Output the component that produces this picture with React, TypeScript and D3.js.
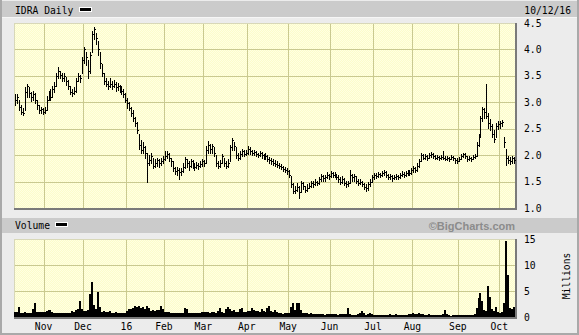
import React from "react";
import * as d3 from "d3";

// ---- data ----
const closes = [
  3.05, 3.10, 2.92, 2.82, 2.80, 3.20, 3.30, 3.18, 3.10, 3.15,
  3.05, 2.95, 2.85, 2.88, 2.82, 2.85, 3.05, 3.15, 3.10, 3.25,
  3.30, 3.50, 3.60, 3.52, 3.45, 3.50, 3.40, 3.30, 3.20, 3.18,
  3.22, 3.40, 3.50, 3.45, 3.80, 4.00, 3.85, 3.60, 3.90, 4.30,
  4.38, 4.22, 4.00, 3.75, 3.55, 3.40, 3.35, 3.30, 3.35, 3.30,
  3.35, 3.28, 3.30, 3.25, 3.22, 3.15, 3.05, 2.98, 2.90, 2.80,
  2.70, 2.60, 2.48, 2.20, 2.10, 2.15, 2.05, 1.85, 1.90, 1.98,
  1.80, 1.85, 1.90, 1.85, 1.88, 1.92, 1.98, 2.02, 1.95, 1.88,
  1.75, 1.70, 1.72, 1.68, 1.70, 1.78, 1.92, 1.85, 1.80, 1.88,
  1.82, 1.78, 1.82, 1.80, 1.84, 1.88, 1.85, 2.10, 2.20, 2.12,
  2.18, 2.05, 1.85, 1.80, 1.85, 1.98, 1.85, 1.80, 1.85, 2.15,
  2.28, 2.18, 2.00, 1.95, 2.02, 2.08, 2.02, 2.05, 2.12, 2.08,
  2.05, 2.06, 2.02, 2.00, 2.04, 2.00, 1.96, 1.98, 1.92, 1.90,
  1.88, 1.86, 1.84, 1.82, 1.80, 1.78, 1.74, 1.72, 1.70, 1.62,
  1.45, 1.32, 1.35, 1.40, 1.30, 1.48, 1.42, 1.35, 1.38, 1.42,
  1.48, 1.45, 1.50, 1.48, 1.55, 1.60, 1.56, 1.58, 1.62, 1.60,
  1.66, 1.62, 1.64, 1.58, 1.55, 1.50, 1.55, 1.48, 1.45, 1.48,
  1.62, 1.58, 1.60, 1.52, 1.48, 1.50, 1.45, 1.40, 1.38, 1.45,
  1.50, 1.58, 1.62, 1.60, 1.64, 1.62, 1.66, 1.68, 1.62, 1.58,
  1.60, 1.56, 1.58, 1.60, 1.58, 1.62, 1.65, 1.63, 1.66, 1.68,
  1.66, 1.72, 1.75, 1.72, 1.80, 1.88, 2.00, 1.95, 1.98, 1.94,
  2.00, 2.02, 1.98, 1.95, 1.96, 1.94, 1.96, 1.95, 1.93, 1.95,
  1.92, 1.96, 1.94, 1.90, 1.88, 1.92, 1.98, 2.02, 1.98, 1.92,
  1.95, 1.93, 1.97, 1.98, 2.20, 2.35, 2.70, 2.88, 2.82, 2.75,
  2.60, 2.55, 2.40, 2.30, 2.55, 2.58, 2.60, 2.62, 2.25, 1.95,
  1.90, 1.88, 1.95, 1.90,
];
const highs = [
  3.15, 3.15, 3.05, 2.95, 2.90, 3.28, 3.34, 3.28, 3.20, 3.22,
  3.18, 3.05, 2.95, 2.92, 2.90, 2.92, 3.12, 3.22, 3.25, 3.30,
  3.38, 3.55, 3.66, 3.60, 3.55, 3.55, 3.48, 3.42, 3.30, 3.25,
  3.28, 3.45, 3.55, 3.52, 3.85, 4.05, 3.95, 3.80, 3.95, 4.35,
  4.42, 4.32, 4.15, 3.95, 3.72, 3.55, 3.45, 3.40, 3.45, 3.40,
  3.42, 3.38, 3.36, 3.32, 3.30, 3.25, 3.18, 3.08, 3.00, 2.92,
  2.85, 2.72, 2.62, 2.40, 2.28, 2.25, 2.18, 2.05, 2.00, 2.05,
  1.95, 1.92, 1.95, 1.92, 1.95, 1.98, 2.08, 2.08, 2.05, 1.95,
  1.88, 1.78, 1.78, 1.75, 1.76, 1.85, 1.96, 1.93, 1.88, 1.92,
  1.90, 1.85, 1.87, 1.85, 1.88, 1.92, 1.90, 2.18, 2.26, 2.22,
  2.22, 2.15, 2.00, 1.88, 1.90, 2.02, 1.95, 1.88, 1.92, 2.20,
  2.32, 2.25, 2.15, 2.05, 2.08, 2.12, 2.10, 2.10, 2.18, 2.15,
  2.10, 2.10, 2.08, 2.05, 2.08, 2.06, 2.02, 2.05, 2.00, 1.96,
  1.94, 1.92, 1.90, 1.88, 1.86, 1.84, 1.80, 1.78, 1.76, 1.72,
  1.60, 1.48, 1.42, 1.48, 1.42, 1.52, 1.50, 1.42, 1.45, 1.48,
  1.52, 1.52, 1.54, 1.52, 1.58, 1.65, 1.62, 1.62, 1.68, 1.65,
  1.70, 1.68, 1.68, 1.65, 1.62, 1.58, 1.60, 1.56, 1.52, 1.52,
  1.72, 1.65, 1.64, 1.60, 1.55, 1.55, 1.52, 1.48, 1.45, 1.50,
  1.55, 1.62, 1.66, 1.66, 1.68, 1.67, 1.70, 1.72, 1.70, 1.64,
  1.64, 1.62, 1.62, 1.64, 1.62, 1.66, 1.70, 1.68, 1.70, 1.72,
  1.72, 1.76, 1.80, 1.78, 1.85, 1.92, 2.04, 2.02, 2.02, 2.00,
  2.04, 2.06, 2.04, 2.00, 2.00, 1.99, 2.00, 2.08, 1.98, 1.98,
  1.97, 2.00, 1.98, 1.95, 1.94, 1.96, 2.02, 2.05, 2.04, 1.98,
  1.98, 1.97, 2.00, 2.02, 2.25, 2.40, 2.75, 2.92, 2.90, 3.35,
  2.80, 2.68, 2.58, 2.48, 2.60, 2.64, 2.65, 2.66, 2.35, 2.12,
  1.98, 1.96, 1.98, 1.96,
];
const lows = [
  2.95, 2.98, 2.85, 2.78, 2.76, 2.85, 3.10, 3.10, 3.02, 3.05,
  2.98, 2.88, 2.80, 2.80, 2.78, 2.80, 2.85, 3.05, 3.05, 3.10,
  3.20, 3.30, 3.45, 3.45, 3.40, 3.40, 3.32, 3.25, 3.15, 3.12,
  3.15, 3.20, 3.40, 3.38, 3.55, 3.75, 3.70, 3.45, 3.55, 3.95,
  4.20, 4.10, 3.90, 3.65, 3.50, 3.35, 3.30, 3.25, 3.28, 3.25,
  3.28, 3.22, 3.24, 3.20, 3.15, 3.10, 3.00, 2.90, 2.85, 2.75,
  2.65, 2.55, 2.42, 2.12, 2.05, 2.05, 1.95, 1.50, 1.82, 1.85,
  1.75, 1.78, 1.80, 1.78, 1.82, 1.85, 1.90, 1.95, 1.88, 1.80,
  1.70, 1.65, 1.62, 1.55, 1.62, 1.68, 1.75, 1.78, 1.72, 1.78,
  1.75, 1.72, 1.75, 1.74, 1.78, 1.80, 1.80, 1.85, 2.05, 2.05,
  2.05, 1.98, 1.80, 1.75, 1.78, 1.85, 1.80, 1.75, 1.78, 1.88,
  2.10, 2.10, 1.95, 1.90, 1.92, 1.98, 1.98, 2.00, 2.02, 2.02,
  2.00, 2.00, 1.98, 1.96, 1.98, 1.95, 1.92, 1.92, 1.88, 1.85,
  1.84, 1.82, 1.80, 1.78, 1.76, 1.74, 1.70, 1.68, 1.64, 1.58,
  1.40, 1.28, 1.28, 1.32, 1.18, 1.30, 1.36, 1.30, 1.32, 1.38,
  1.40, 1.40, 1.44, 1.44, 1.46, 1.52, 1.52, 1.52, 1.56, 1.55,
  1.58, 1.58, 1.58, 1.54, 1.50, 1.46, 1.48, 1.44, 1.40, 1.42,
  1.48, 1.52, 1.52, 1.48, 1.44, 1.45, 1.42, 1.36, 1.33, 1.35,
  1.42, 1.50, 1.55, 1.56, 1.58, 1.58, 1.60, 1.62, 1.58, 1.54,
  1.55, 1.52, 1.54, 1.55, 1.54, 1.57, 1.60, 1.59, 1.61, 1.63,
  1.62, 1.64, 1.68, 1.68, 1.70, 1.78, 1.88, 1.92, 1.93, 1.90,
  1.95, 1.96, 1.94, 1.92, 1.92, 1.90, 1.92, 1.92, 1.90, 1.91,
  1.88, 1.92, 1.90, 1.86, 1.85, 1.88, 1.92, 1.96, 1.94, 1.88,
  1.90, 1.89, 1.92, 1.94, 1.98, 2.18, 2.35, 2.65, 2.70, 2.70,
  2.52, 2.48, 2.35, 2.25, 2.35, 2.50, 2.52, 2.55, 2.15, 1.82,
  1.85, 1.84, 1.86, 1.86,
];
const volumes = [
  1.0, 0.9, 2.0, 0.8, 0.8, 0.9, 0.8, 0.7, 0.8, 1.6,
  2.6, 1.0, 0.9, 1.0, 0.9, 1.0, 1.1, 1.4, 1.4, 1.0,
  0.8, 0.8, 0.7, 0.8, 0.8, 0.7, 0.8, 0.7, 0.8, 1.2,
  1.0, 1.3, 1.6, 3.1, 1.6, 1.2, 1.1, 1.3, 4.5, 6.8,
  2.3, 1.5, 4.9, 2.0, 1.0, 1.1, 1.0, 0.9, 1.2, 0.8,
  0.8, 0.9, 0.7, 0.8, 0.7, 0.8, 0.7, 1.2, 1.5, 1.6,
  1.8, 2.2, 1.9, 2.2, 1.8, 2.0, 1.6, 2.2, 1.7, 1.2,
  1.3, 1.2, 1.3, 1.4, 2.2, 1.6, 1.0, 1.0, 0.9, 0.8,
  0.7, 0.7, 0.7, 0.7, 0.7, 0.8, 1.7, 1.5, 0.8, 0.7,
  0.7, 0.8, 0.7, 0.7, 0.8, 1.0, 0.9, 1.0, 0.9, 0.8,
  0.9, 0.9, 0.8, 1.2, 1.7, 0.9, 0.8, 1.5, 2.0, 1.6,
  1.2, 1.4, 0.9, 1.0, 1.5, 1.8, 1.0, 0.9, 1.2, 1.1,
  1.7, 1.3, 1.1, 1.2, 1.0, 1.6, 1.1, 0.9, 1.7, 2.1,
  1.2, 0.9, 1.4, 1.0, 0.7, 0.7, 0.6, 0.7, 0.7, 0.8,
  2.0, 2.6, 1.4, 2.7, 2.6, 1.3, 0.7, 0.7, 0.7, 0.6,
  0.7, 0.5, 0.5, 0.5, 0.6, 0.5, 0.5, 0.4, 0.5, 0.5,
  0.6, 0.5, 0.5, 0.5, 0.4, 0.5, 0.6, 0.5, 0.5, 1.8,
  0.6, 0.4, 0.4, 0.4, 0.5, 0.8, 1.1, 0.7, 0.4, 0.6,
  0.7, 0.5, 0.4, 0.4, 0.3, 0.4, 0.3, 0.3, 0.4, 0.3,
  0.5, 0.4, 0.3, 0.5, 0.3, 0.3, 0.4, 0.3, 0.3, 0.4,
  0.6, 0.5, 0.7, 0.6, 0.5, 0.7, 0.6, 0.5, 0.4, 0.4,
  0.6, 0.4, 0.3, 0.4, 0.3, 0.3, 0.4, 0.6, 1.3, 0.5,
  0.3, 0.2, 0.3, 0.4, 0.3, 0.3, 0.4, 0.4, 0.3, 0.4,
  0.3, 0.4, 0.4, 0.5, 1.8, 3.6, 4.6, 3.0, 1.3, 1.1,
  6.0, 3.8, 1.5, 1.2, 2.0, 0.9, 0.8, 1.0, 2.7, 14.6,
  8.0, 1.8, 1.6, 2.0,
];
const monthLabels = ["Nov", "Dec", "16", "Feb", "Mar", "Apr", "May", "Jun", "Jul", "Aug", "Sep", "Oct"];
const monthStarts = [15, 35, 57, 76, 96, 118, 139, 160, 182, 202, 225, 246];
const priceTicks = [1.0, 1.5, 2.0, 2.5, 3.0, 3.5, 4.0, 4.5];
const volumeTicks = [0, 5, 10, 15];
const symbolTitle = "IDRA Daily";
const dateTitle = "10/12/16";

const W = 579;
const H = 335;
const PX0 = 14, PX1 = 515.5;
const P = { top: 23, bottom: 208 };
const V = { top: 239, bottom: 317 };
const MONO = "'DejaVu Sans Mono', monospace";
const GRID = "#c9c990";

export default function App() {
  const n = closes.length;
  const x = d3.scaleLinear().domain([0, n]).range([PX0, 515]);
  const yP = d3.scaleLinear().domain([1, 4.5]).range([P.bottom, P.top]);
  const yV = d3.scaleLinear().domain([0, 15]).range([V.bottom, V.top]);
  const cx = (i: number) => Math.round(x(i + 0.5)) + 0.5;

  const gridV = (top: number, bottom: number) =>
    monthStarts.map((m, k) => (
      <line key={k} x1={Math.round(x(m)) + 0.5} x2={Math.round(x(m)) + 0.5} y1={top} y2={bottom} stroke={GRID} strokeWidth={1} />
    ));

  return (
    <div style={{ position: "fixed", left: 0, top: 0 }}>
      <svg width={W} height={H} style={{ display: "block" }} shapeRendering="crispEdges">
        <defs>
          <pattern id="dots" width="2" height="2" patternUnits="userSpaceOnUse">
            <rect width="2" height="2" fill="#fcfccb" />
            <rect width="1" height="1" fill="#ffffe2" />
            <rect x="1" y="1" width="1" height="1" fill="#ffffe2" />
          </pattern>
        </defs>
        {/* background frame */}
        <rect x={0} y={0} width={W} height={H} fill="#a9a9a9" />
        <rect x={2} y={0} width={W - 4} height={H - 2} fill="#ececec" />
        {/* header band */}
        <rect x={2} y={1} width={W - 4} height={16} fill="#cbcbcb" />
        <line x1={2} x2={W - 2} y1={17.5} y2={17.5} stroke="#f6f6f6" />
        <text x={15} y={13.5} fontFamily={MONO} fontSize={9.7} fill="#000">{symbolTitle}</text>
        <rect x={79} y={7} width={13} height={5} fill="#fff" />
        <rect x={80} y={8} width={11} height={3} fill="#000" />
        <text x={571} y={13.5} textAnchor="end" fontFamily={MONO} fontSize={9.7} fill="#000">{dateTitle}</text>

        {/* price panel */}
        <rect x={PX0} y={P.top} width={PX1 - PX0} height={P.bottom - P.top} fill="url(#dots)" />
        {priceTicks.slice(1, -1).map((t) => (
          <line key={t} x1={PX0} x2={PX1} y1={Math.round(yP(t)) + 0.5} y2={Math.round(yP(t)) + 0.5} stroke={GRID} />
        ))}
        {gridV(P.top, P.bottom)}
        <line x1={PX0} x2={PX1} y1={P.top + 0.5} y2={P.top + 0.5} stroke="#d8d8b8" />
        <line x1={PX0 + 0.5} x2={PX0 + 0.5} y1={P.top} y2={P.bottom} stroke="#d8d8b8" />
        <line x1={PX0} x2={PX1 + 1} y1={P.bottom + 0.5} y2={P.bottom + 0.5} stroke="#7a7a7a" strokeWidth={2} />
        <line x1={PX1 + 0.5} x2={PX1 + 0.5} y1={P.top} y2={P.bottom + 1} stroke="#7a7a7a" strokeWidth={1.5} />
        <g stroke="#000" strokeWidth={1}>
          {closes.map((c, i) => (
            <g key={i}>
              <line x1={cx(i)} x2={cx(i)} y1={Math.round(yP(highs[i]))} y2={Math.round(yP(lows[i])) + 1} />
              <line x1={cx(i)} x2={cx(i) + 1.5} y1={Math.round(yP(c)) + 0.5} y2={Math.round(yP(c)) + 0.5} />
            </g>
          ))}
        </g>
        {priceTicks.map((t) => (
          <text key={t} x={524} y={yP(t) + 3.5} fontFamily={MONO} fontSize={9.7} fill="#000">{t.toFixed(1)}</text>
        ))}

        {/* volume header */}
        <rect x={2} y={218} width={W - 4} height={15} fill="#cbcbcb" />
        <text x={15} y={229} fontFamily={MONO} fontSize={9.7} fill="#000">Volume</text>
        <rect x={55} y={222} width={13} height={5} fill="#fff" />
        <rect x={56} y={223} width={11} height={3} fill="#000" />
        <text x={515} y={229.5} textAnchor="end" fontFamily="'Liberation Sans', Arial, sans-serif" fontWeight="bold" fontSize={11} fill="#8c8c8c">©BigCharts.com</text>

        {/* volume panel */}
        <rect x={PX0} y={V.top} width={PX1 - PX0} height={V.bottom - V.top} fill="url(#dots)" />
        {volumeTicks.slice(1, -1).map((t) => (
          <line key={t} x1={PX0} x2={PX1} y1={Math.round(yV(t)) + 0.5} y2={Math.round(yV(t)) + 0.5} stroke={GRID} />
        ))}
        {gridV(V.top, V.bottom)}
        <line x1={PX0} x2={PX1} y1={V.top + 0.5} y2={V.top + 0.5} stroke="#d8d8b8" />
        <line x1={PX0 + 0.5} x2={PX0 + 0.5} y1={V.top} y2={V.bottom} stroke="#d8d8b8" />
        <g fill="#000">
          {volumes.map((v, i) => {
            const x0 = Math.round(x(i));
            const x1 = Math.round(x(i + 1));
            const yt = Math.round(yV(v));
            return <rect key={i} x={x0} y={yt} width={Math.max(1, x1 - x0)} height={V.bottom - yt} />;
          })}
        </g>
        <line x1={PX0} x2={PX1 + 1} y1={V.bottom + 0.5} y2={V.bottom + 0.5} stroke="#7a7a7a" strokeWidth={2} />
        <line x1={PX1 + 0.5} x2={PX1 + 0.5} y1={V.top} y2={V.bottom + 1} stroke="#7a7a7a" strokeWidth={1.5} />
        {volumeTicks.map((t) => (
          <text key={t} x={524} y={yV(t) + 3.5} fontFamily={MONO} fontSize={9.7} fill="#000">{t}</text>
        ))}
        <text transform="translate(570,276) rotate(-90)" textAnchor="middle" fontFamily={MONO} fontSize={9.7} fill="#000">Millions</text>

        {/* month labels */}
        {monthStarts.map((m, k) => (
          <text key={k} x={x(m)} y={329.5} textAnchor="middle" fontFamily={MONO} fontSize={9.7} fill="#000">{monthLabels[k]}</text>
        ))}
      </svg>
    </div>
  );
}
